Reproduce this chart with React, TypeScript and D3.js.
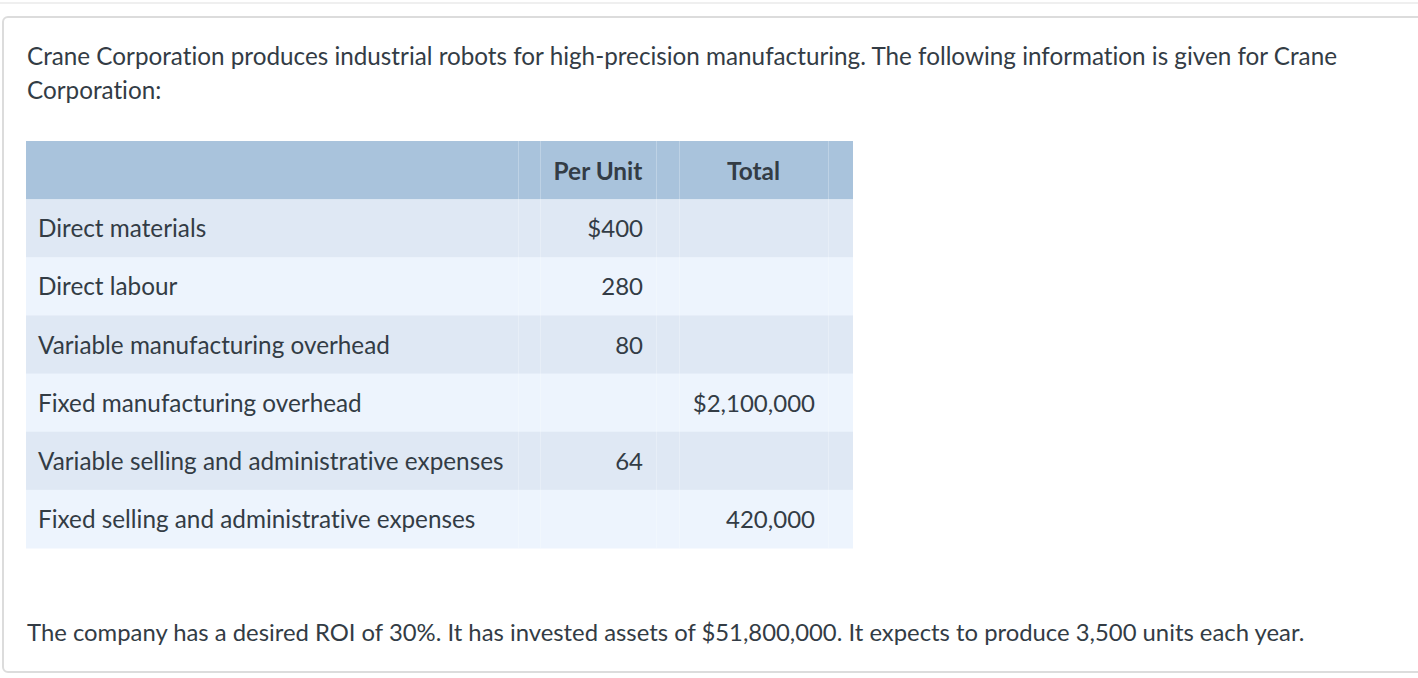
import React from "react";
import * as d3 from "d3";

const introText = [
  "Crane Corporation produces industrial robots for high-precision manufacturing. The following information is given for Crane",
  "Corporation:",
];
const footerText =
  "The company has a desired ROI of 30%. It has invested assets of $51,800,000. It expects to produce 3,500 units each year.";
const headers = ["", "Per Unit", "Total"];
const items = [
  "Direct materials",
  "Direct labour",
  "Variable manufacturing overhead",
  "Fixed manufacturing overhead",
  "Variable selling and administrative expenses",
  "Fixed selling and administrative expenses",
];
const perUnit = ["$400", "280", "80", "", "64", ""];
const totals = ["", "", "", "$2,100,000", "", "420,000"];

const W = 1418;
const H = 678;
const FONT = "Lato, 'Noto Sans', sans-serif";
const TEXT = "#333c45";
const FS = 24;

export default function App() {
  const rowKeys = ["header", ...items.map((_, i) => `r${i}`)];
  const y = d3.scaleBand<string>().domain(rowKeys).range([141, 548]).paddingInner(0);
  const colEdges = [26, 518, 540, 656, 679, 828, 853];
  const tableLeft = colEdges[0];
  const tableRight = colEdges[colEdges.length - 1];
  const bw = y.bandwidth();

  return (
    <svg
      width={W}
      height={H}
      style={{
        position: "absolute",
        left: 0,
        top: 0,
        display: "block",
        fontVariantLigatures: "none",
        fontFeatureSettings: "'liga' 0, 'clig' 0",
      }}
      fontFamily={FONT}
    >
      <rect x={0} y={0} width={W} height={H} fill="#fff" />
      <rect x={0} y={2} width={W} height={2} fill="#efefef" />
      <rect
        x={3}
        y={17}
        width={W + 20}
        height={655}
        rx={5}
        ry={5}
        fill="#fff"
        stroke="#dcdcdc"
        strokeWidth={2}
      />
      {introText.map((t, i) => (
        <text key={i} x={27} y={65 + i * 34} fontSize={24.25} fill={TEXT}>
          {t}
        </text>
      ))}
      {rowKeys.map((k, i) => (
        <rect
          key={k}
          x={tableLeft}
          y={y(k)!}
          width={tableRight - tableLeft}
          height={bw + 0.5}
          fill={i === 0 ? "#a9c3dc" : i % 2 === 1 ? "#dfe8f4" : "#edf4fd"}
        />
      ))}
      {colEdges.slice(1, -1).map((x, i) => (
        <line
          key={i}
          x1={x + 0.5}
          x2={x + 0.5}
          y1={141}
          y2={548}
          stroke="#ffffff"
          strokeOpacity={0.25}
          strokeWidth={1}
        />
      ))}
      <text
        x={(colEdges[2] + colEdges[3]) / 2}
        y={y("header")! + bw / 2 + 10}
        textAnchor="middle"
        fontSize={FS + 0.4}
        fontWeight={700}
        fill={TEXT}
      >
        {headers[1]}
      </text>
      <text
        x={(colEdges[4] + colEdges[5]) / 2}
        y={y("header")! + bw / 2 + 10}
        textAnchor="middle"
        fontSize={FS + 0.4}
        fontWeight={700}
        fill={TEXT}
      >
        {headers[2]}
      </text>
      {items.map((it, i) => {
        const cy = y(`r${i}`)! + bw / 2 + 9;
        return (
          <g key={it}>
            <text x={38} y={cy} fontSize={24.3} fill={TEXT}>
              {it}
            </text>
            <text x={643} y={cy} fontSize={FS} fill={TEXT} textAnchor="end">
              {perUnit[i]}
            </text>
            <text x={815} y={cy} fontSize={FS} fill={TEXT} textAnchor="end">
              {totals[i]}
            </text>
          </g>
        );
      })}
      <text x={27} y={641} fontSize={23.85} fill={TEXT}>
        {footerText}
      </text>
    </svg>
  );
}
